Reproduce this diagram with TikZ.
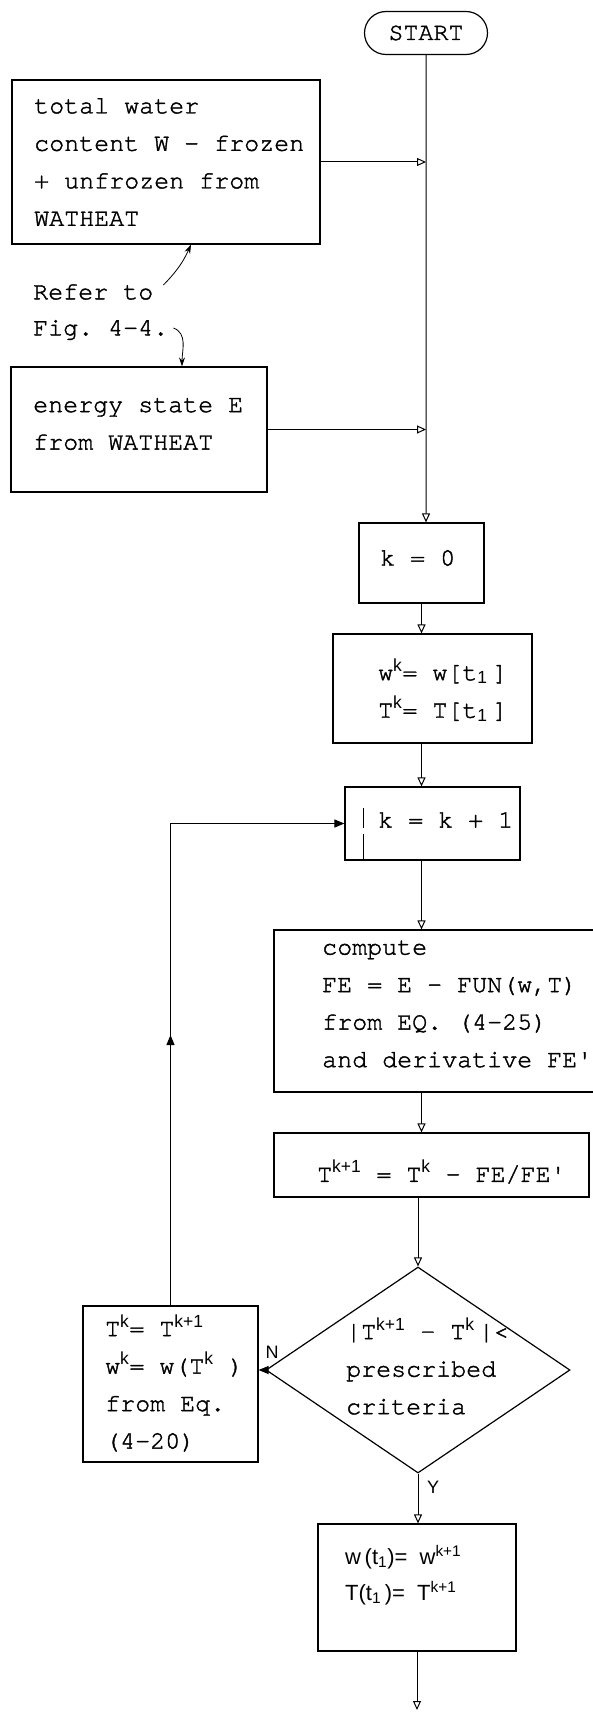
\documentclass[tikz,border=0pt]{standalone}
\usepackage{fontspec}
\setmonofont[FakeBold=1.6]{TeX Gyre Cursor}
\setsansfont{Liberation Sans}
\usetikzlibrary{arrows.meta,shapes.geometric,shapes.misc}
\newcommand{\tw}{\ttfamily\fontsize{25}{37.5}\selectfont}
\newcommand{\hw}{\sffamily\fontsize{22}{36}\selectfont}
\newcommand{\hi}[1]{\textsuperscript{\sffamily #1}}
\newcommand{\lo}[1]{\textsubscript{\sffamily #1}}
\tikzset{
  box/.style={draw,line width=1.2pt,inner sep=0pt},
  txt/.style={font=\tw,align=left,inner sep=0pt,anchor=west},
  flow/.style={line width=1pt,-{Triangle[open,length=9pt,width=8pt]}},
  loopflow/.style={line width=1pt,-{Triangle[length=10pt,width=8pt]}},
  note/.style={line width=0.8pt,-{Stealth[length=9pt,width=6pt]}},
  yn/.style={font=\sffamily\fontsize{18}{18}\selectfont,inner sep=0pt}
}

\begin{document}
\begin{tikzpicture}[x=1pt,y=-1pt]
\useasboundingbox (0,0) rectangle (593,1712);

\node[box,rounded rectangle,minimum width=123pt,minimum height=43pt,font=\tw] (start) at (426,33) {START};

\node[box,minimum width=308pt,minimum height=164pt] (watbox) at (166,162) {};
\node[box,minimum width=256pt,minimum height=125pt] (enbox) at (139,429.5) {};
\node[box,minimum width=125pt,minimum height=80pt] (kzero) at (421.5,563) {};
\node[box,minimum width=199pt,minimum height=109pt] (wkbox) at (432.5,688.5) {};
\node[box,minimum width=175pt,minimum height=73pt] (kinc) at (432.5,823.5) {};
\node[box,minimum width=326pt,minimum height=162pt] (comp) at (437,1011) {};
\node[box,minimum width=315pt,minimum height=64pt] (tbox) at (431.5,1165) {};
\node[box,diamond,minimum width=304pt,minimum height=206pt] (dia) at (418,1370) {};
\node[box,minimum width=175pt,minimum height=156pt] (upbox) at (170.5,1384) {};
\node[box,minimum width=198pt,minimum height=127pt] (finbox) at (417,1587.5) {};
\coordinate (out) at (417,1710);
\coordinate (loopmid) at (172,1035);

\node[txt] (wattext) at (34,162) {total water\\content W - frozen\\+ unfrozen from\\WATHEAT};
\node[txt] (refer) at (33,292) {Refer to};
\node[txt] (figref) at (33,330) {Fig. 4-4.};
\node[txt] (entext) at (33,424) {energy state E\\from WATHEAT};
\node[txt] (kzerotext) at (380,558) {k = 0};
\node[txt] (wktext) at (378,690) {w\hi{k}= w[t\lo{1}\hspace{5pt}]\\T\hi{k}= T[t\lo{1}\hspace{5pt}]};
\node[txt] (kinctext) at (378,820) {k = k + 1};
\node[txt] (comptext) at (322,1004) {compute\\FE = E - FUN(w,T)\\from EQ. (4-25)\\and derivative FE\textquotesingle};
\node[txt] (ttext) at (317,1172) {T\hi{k+1} = T\hi{k} - FE/FE\textquotesingle};
\node[txt] (diatext) at (346,1366) {|T\hi{k+1} - T\hi{k}\,|<\\prescribed\\criteria};
\node[txt] (uptext) at (105,1383) {T\hi{k}= T\hi{k+1}\\w\hi{k}= w(T\hi{k} )\\from Eq.\\(4-20)};
\node[txt,font=\hw] (fintext) at (345,1575) {w\,(t\lo{1})=\ \ w\hi{k+1}\\T(t\lo{1}\,)=\ \ T\hi{k+1}};
\node[yn] (nlab) at (272,1352) {N};
\node[yn] (ylab) at (433,1487) {Y};

\draw[flow] (watbox.east) -- (watbox.east -| start);
\draw[flow] (enbox.east) -- (enbox.east -| start);
\draw[flow] (start) -- (start |- kzero.north);
\draw[flow] (kzero) -- (kzero |- wkbox.north);
\draw[flow] (kzero |- wkbox.south) -- (kzero |- kinc.north);
\draw[flow] (kzero |- kinc.south) -- (kzero |- comp.north);
\draw[flow] (kzero |- comp.south) -- (kzero |- tbox.north);
\draw[flow] (dia.north |- tbox.south) -- (dia.north);
\draw[flow] (dia.south) -- (dia.south |- finbox.north);
\draw[flow] (finbox) -- (finbox |- out);

\draw[loopflow] (dia.west) -- (dia.west -| upbox.east);
\draw[loopflow] (upbox) -- (upbox |- loopmid);
\draw[loopflow] (upbox.north) -- (upbox |- kinc.west) -- (kinc.west);

\draw[line width=0.8pt] ([xshift=19pt]kinc.south west) -- ++(0pt,27pt) ++(0pt,6pt) -- ++(0pt,20pt);

\draw[note] ([xshift=10pt,yshift=7pt]refer.east) to[bend right=10] ([xshift=25pt]watbox.south);
\draw[note] ([xshift=5pt,yshift=2pt]figref.east) to[out=-20,in=90] ([xshift=43pt]enbox.north);

\end{tikzpicture}
\end{document}
